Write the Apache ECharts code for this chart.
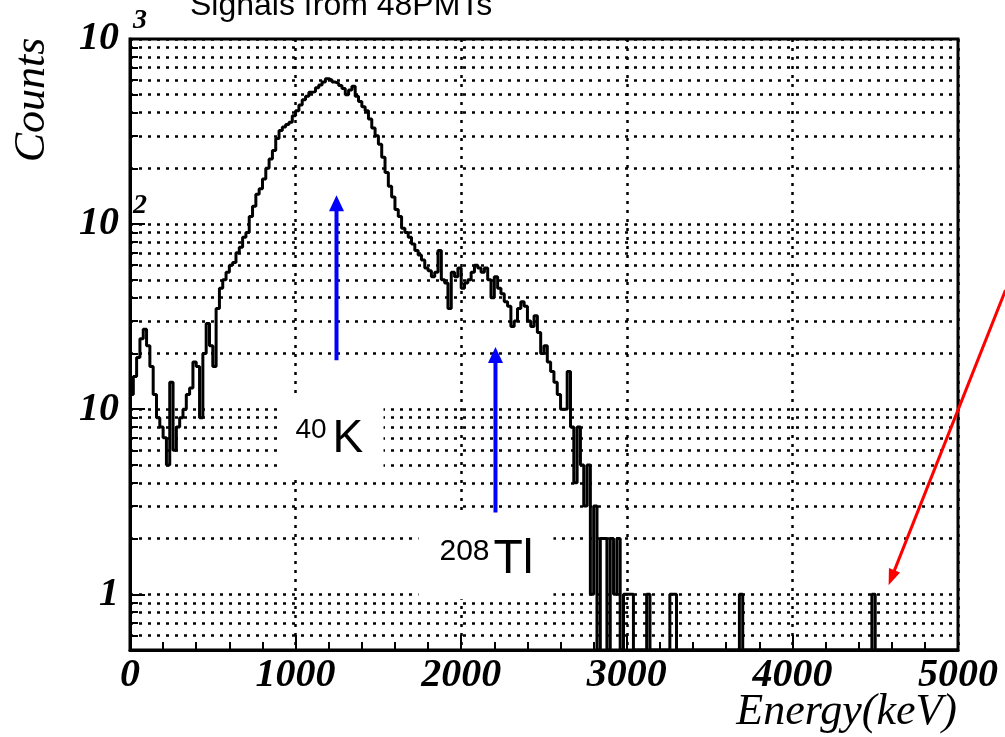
<!DOCTYPE html>
<html>
<head>
<meta charset="utf-8">
<script src="https://cdn.jsdelivr.net/npm/echarts@6/dist/echarts.min.js"></script>
<style>
html, body { margin: 0; padding: 0; background: #fff; }
#chart { width: 1005px; height: 737px; }
</style>
</head>
<body>
<div id="chart"></div>
<script>
// energy spectrum, 20 keV bins starting at 0 keV
const binWidth = 20;
const xMax = 5000;
const counts = [
  12, 15, 19, 24, 27, 22, 17, 12, 9, 8,          // 0 - 200
  7, 5, 14, 6, 8, 9, 10, 12, 13, 18,             // 200 - 400
  17, 9, 20, 29, 22, 17, 35, 45, 50, 55,         // 400 - 600
  60, 62, 70, 75, 85, 90, 110, 125, 145, 155,    // 600 - 800
  175, 200, 225, 250, 290, 320, 335, 345, 355, 385,  // 800 - 1000
  410, 440, 470, 490, 515, 520, 545, 565, 585, 610,  // 1000 - 1200
  600, 585, 575, 560, 540, 500, 530, 555, 490, 460,  // 1200 - 1400
  430, 410, 370, 330, 300, 270, 230, 190, 160, 140,  // 1400 - 1600
  120, 110, 95, 90, 85, 78, 72, 68, 64, 58,      // 1600 - 1800
  56, 52, 55, 72, 50, 48, 35, 55, 52, 58,        // 1800 - 2000
  45, 48, 50, 55, 60, 58, 55, 58, 50, 40,        // 2000 - 2200
  52, 45, 42, 38, 36, 28, 30, 35, 38, 36,        // 2200 - 2400
  30, 28, 32, 26, 20, 22, 18, 16, 14, 12,        // 2400 - 2600
  10, 10, 16, 8, 4, 8, 5, 3, 5, 1,               // 2600 - 2800
  3, 0, 2, 2, 0, 2, 1, 2, 0, 1,                  // 2800 - 3000
  1, 1, 0                                        // 3000 - 3060
];
// isolated single counts above 3 MeV (bin start energy)
const tailBins = [3120, 3260, 3280, 3680, 4480];
const tailCounts = [1, 1, 1, 1, 1];

const yMin = 0.5;
const yMax = 1000;
const yMajor = [1, 10, 100, 1000];
const yMinor = [0.6, 0.7, 0.8, 0.9, 2, 3, 4, 5, 6, 7, 8, 9,
                20, 30, 40, 50, 60, 70, 80, 90, 200, 300, 400, 500, 600, 700, 800, 900];

// annotations in data units (energy, counts)
const blueArrows = [
  { x: 1247, from: 18.4, to: 143 },
  { x: 2207, from: 2.77, to: 21.7 }
];
const redArrow = { from: [5287, 44], to: [4581, 1.12] };
const labelBoxes = [
  { x0: 891, x1: 1531, y0: 11.6, y1: 4.3, sup: '40', main: 'K', supSize: 28, mainSize: 46,
    supDx: 18, supDy: 33, mainDx: 55, mainDy: 42 },
  { x0: 1742, x1: 2557, y0: 2.74, y1: 0.94, sup: '208', main: 'Tl', supSize: 30, mainSize: 48,
    supDx: 21, supDy: 38, mainDx: 75, mainDy: 47 }
];

// build histogram outline
const nBins = xMax / binWidth;
const full = new Array(nBins).fill(0);
counts.forEach((c, i) => { full[i] = c; });
tailBins.forEach((e, k) => { full[Math.round(e / binWidth)] = tailCounts[k]; });
const histData = full.map((c, i) => [i * binWidth, c > 0 ? c : yMin]);
histData.push([xMax, histData[histData.length - 1][1]]);

const serif = 'Liberation Serif';
const sans = 'Liberation Sans';
const dotted = { type: [3, 6], color: '#000', width: 2.5 };

const chart = echarts.init(document.getElementById('chart'));

const option = {
  animation: false,
  backgroundColor: '#fff',
  grid: {
    left: 130, right: 47, top: 39, bottom: 87,
    show: true, borderColor: '#000', borderWidth: 3,
    outerBoundsMode: 'none'
  },
  xAxis: {
    type: 'value', min: 0, max: xMax, interval: 1000,
    axisLine: { show: true, onZero: false, lineStyle: { color: '#000', width: 3 } },
    axisTick: { show: true, inside: true, length: 15, lineStyle: { color: '#000', width: 2 } },
    minorTick: { show: true, splitNumber: 5, length: 8, lineStyle: { color: '#000', width: 2 } },
    axisLabel: {
      color: '#000', fontFamily: serif, fontStyle: 'italic', fontWeight: 'bold',
      fontSize: 40, margin: 6,
      formatter: v => String(v)
    },
    splitLine: { show: true, lineStyle: dotted }
  },
  yAxis: [{
    type: 'log', logBase: 10, min: yMin, max: yMax,
    axisLine: { show: true, lineStyle: { color: '#000', width: 3 } },
    axisTick: { show: true, inside: true, length: 15, customValues: yMajor,
      lineStyle: { color: '#000', width: 2 } },
    axisLabel: {
      customValues: yMajor,
      margin: -17,
      formatter: v => {
        const e = Math.round(Math.log10(v));
        if (e >= 2) return '{b|10}{s|' + e + '}';
        return '{b|' + Math.round(v) + '}{p|}';
      },
      rich: {
        b: { fontFamily: serif, fontStyle: 'italic', fontWeight: 'bold', fontSize: 40,
             lineHeight: 64, color: '#000' },
        s: { fontFamily: serif, fontStyle: 'italic', fontWeight: 'bold', fontSize: 28,
             lineHeight: 28, verticalAlign: 'top', width: 16, padding: [0, 0, 0, 12], color: '#000' },
        p: { width: 28 }
      }
    },
    splitLine: { show: true, lineStyle: dotted }
  }, {
    type: 'log', logBase: 10, min: yMin, max: yMax, position: 'left',
    axisLine: { show: false },
    axisTick: { show: true, inside: true, length: 8, customValues: yMinor,
      lineStyle: { color: '#000', width: 2 } },
    axisLabel: { show: false },
    splitLine: { show: true, lineStyle: dotted }
  }],
  series: [{
    type: 'line',
    step: 'end',
    data: histData,
    symbol: 'none',
    clip: true,
    lineStyle: { color: '#000', width: 3 },
    z: 5
  }]
};
chart.setOption(option);

// annotations placed through the axes
const px = p => chart.convertToPixel({ xAxisIndex: 0, yAxisIndex: 0 }, p);

function arrow(p0, p1, color, width, headLen, headW) {
  const dx = p1[0] - p0[0], dy = p1[1] - p0[1];
  const len = Math.hypot(dx, dy);
  const ux = dx / len, uy = dy / len;
  const bx = p1[0] - ux * headLen, by = p1[1] - uy * headLen;
  return [
    { type: 'line', z: 20, shape: { x1: p0[0], y1: p0[1], x2: bx + ux * 2, y2: by + uy * 2 },
      style: { stroke: color, lineWidth: width } },
    { type: 'polygon', z: 20,
      shape: { points: [p1, [bx - uy * headW / 2, by + ux * headW / 2], [bx + uy * headW / 2, by - ux * headW / 2]] },
      style: { fill: color } }
  ];
}

const graphics = [];
labelBoxes.forEach(b => {
  const tl = px([b.x0, b.y0]);
  const br = px([b.x1, b.y1]);
  graphics.push({ type: 'rect', z: 15,
    shape: { x: tl[0], y: tl[1], width: br[0] - tl[0], height: br[1] - tl[1] },
    style: { fill: '#fff' } });
  graphics.push({ type: 'text', z: 16, x: tl[0] + b.supDx, y: tl[1] + b.supDy,
    style: { text: b.sup, font: b.supSize + 'px "' + sans + '"', fill: '#000',
             align: 'left', verticalAlign: 'middle' } });
  graphics.push({ type: 'text', z: 16, x: tl[0] + b.mainDx, y: tl[1] + b.mainDy,
    style: { text: b.main, font: b.mainSize + 'px "' + sans + '"', fill: '#000',
             align: 'left', verticalAlign: 'middle' } });
});
blueArrows.forEach(a => {
  graphics.push(...arrow(px([a.x, a.from]), px([a.x, a.to]), '#0000ff', 4, 16, 15));
});
graphics.push(...arrow(px(redArrow.from), px(redArrow.to), '#ff0000', 3, 16, 12));

graphics.push({ type: 'text', z: 20, x: 190, y: 22,
  style: { text: 'Signals from 48PMTs', font: '32px "' + sans + '"', fill: '#000',
           align: 'left', verticalAlign: 'bottom' } });
graphics.push({ type: 'text', z: 20, x: 32, y: 100, rotation: Math.PI / 2,
  style: { text: 'Counts', font: 'italic 44px "' + serif + '"', fill: '#000',
           align: 'center', verticalAlign: 'middle' } });
graphics.push({ type: 'text', z: 20, x: 957, y: 712,
  style: { text: 'Energy(keV)', font: 'italic 44px "' + serif + '"', fill: '#000',
           align: 'right', verticalAlign: 'middle' } });

chart.setOption({ graphic: { elements: graphics } });
</script>
</body>
</html>
